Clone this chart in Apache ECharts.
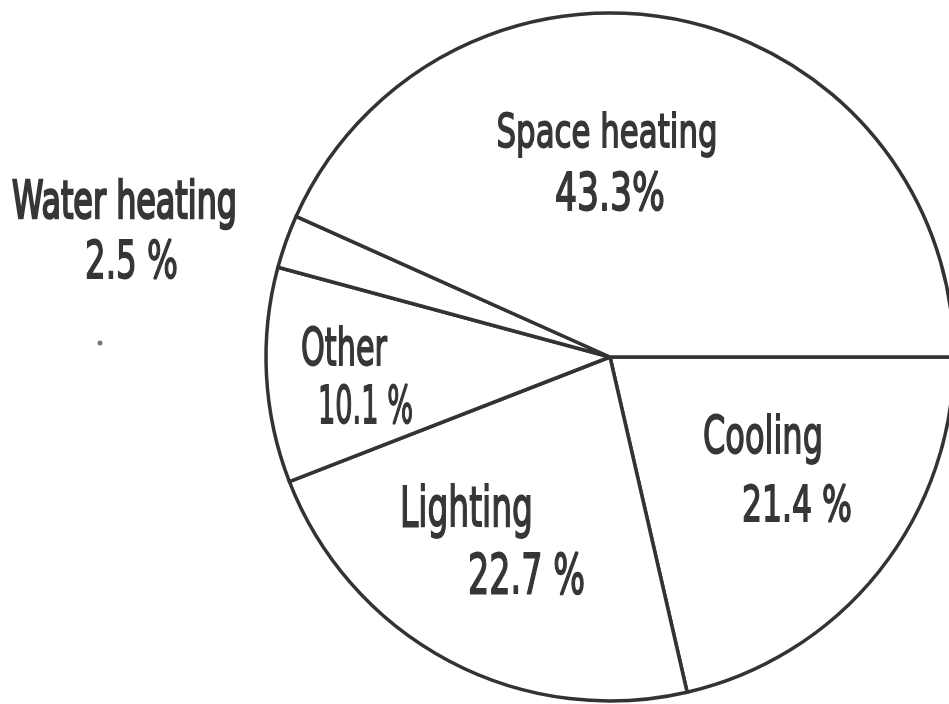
<!DOCTYPE html>
<html>
<head>
<meta charset="utf-8">
<script src="https://cdn.jsdelivr.net/npm/echarts@6/dist/echarts.min.js"></script>
<style>
html,body{margin:0;padding:0;background:#fff;}
#chart{width:949px;height:704px;}
</style>
</head>
<body>
<div id="chart"></div>
<script>
// ---- data ----
const categories = ['Cooling', 'Lighting', 'Other', 'Water heating', 'Space heating'];
const values = [21.4, 22.7, 10.1, 2.5, 43.3];
const percentLabels = ['21.4 %', '22.7 %', '10.1 %', '2.5 %', '43.3%'];

// ---- label layout (centre x, cap-centre y, target width, cap height) ----
const nameLayout = [
  {cx: 763, cy: 436, w: 120, cap: 38},
  {cx: 466.5, cy: 508, w: 133, cap: 40},
  {cx: 344, cy: 348.5, w: 86, cap: 37},
  {cx: 124.5, cy: 201.5, w: 225, cap: 37, heavy: true},
  {cx: 607, cy: 131.5, w: 221, cap: 34}
];
const pctLayout = [
  {cx: 797, cy: 505, w: 110, cap: 36},
  {cx: 526.5, cy: 575, w: 117, cap: 40},
  {cx: 365.5, cy: 406, w: 95, cap: 38},
  {cx: 131.5, cy: 261, w: 93, cap: 38},
  {cx: 610, cy: 193.5, w: 110, cap: 37}
];

const FONT = '"DejaVu Sans"';
const TEXT_COLOR = '#363636';
const mctx = document.createElement('canvas').getContext('2d');

function makeText(str, L) {
  const fs = Math.round(L.cap / 0.729);
  const weight = 'normal';
  mctx.font = weight + ' ' + fs + 'px ' + FONT;
  const mw = mctx.measureText(str).width || 1;
  const sx = L.w / mw;
  return {
    type: 'text',
    x: L.cx,
    y: L.cy + 0.067 * fs,
    scaleX: sx,
    z: 100,
    silent: true,
    style: {
      text: str,
      x: 0, y: 0,
      align: 'center',
      verticalAlign: 'middle',
      fontFamily: FONT,
      fontSize: fs,
      fontWeight: weight,
      fill: TEXT_COLOR,
      stroke: TEXT_COLOR,
      lineWidth: L.heavy ? 2.6 : 1.8
    }
  };
}

const graphics = [];
categories.forEach((c, i) => {
  graphics.push(makeText(c, nameLayout[i]));
  graphics.push(makeText(percentLabels[i], pctLayout[i]));
});
// small speck in the scan
graphics.push({type: 'circle', z: 100, silent: true, shape: {cx: 100, cy: 343, r: 2.5}, style: {fill: '#777'}});

const chart = echarts.init(document.getElementById('chart'), null, {renderer: 'canvas'});
chart.setOption({
  animation: false,
  backgroundColor: '#fff',
  series: [{
    type: 'pie',
    z: 1,
    center: [610, 357],
    radius: 344,
    startAngle: 0,
    clockwise: true,
    avoidLabelOverlap: false,
    label: {show: false},
    labelLine: {show: false},
    emphasis: {disabled: true},
    itemStyle: {color: '#fff', borderColor: '#333', borderWidth: 3.5},
    data: categories.map((c, i) => ({name: c, value: values[i]}))
  }],
  graphic: graphics
});
</script>
</body>
</html>
